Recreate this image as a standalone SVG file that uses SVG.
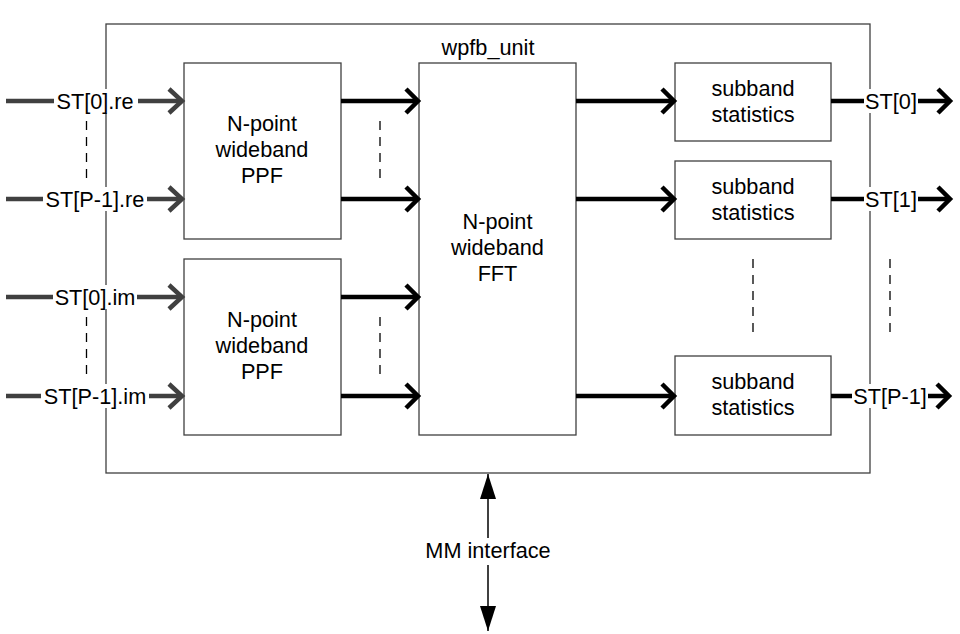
<svg xmlns="http://www.w3.org/2000/svg" width="960" height="634" viewBox="0 0 960 634">
<style>
text{font-family:"Liberation Sans",Arial,sans-serif;font-size:21.7px;fill:#000;text-anchor:middle}
.box{fill:#fff;stroke:#404040;stroke-width:1.3}
.gray{stroke:#404040;stroke-width:4.5;fill:none}
.blk{stroke:#000;stroke-width:4.5;fill:none}
.dash{stroke:#000;stroke-width:1.3;stroke-dasharray:9 7;fill:none}
.bg{fill:#fff}
</style>
<defs>
<marker id="chevG" markerUnits="userSpaceOnUse" viewBox="-16 -15 20 30" refX="0" refY="0" markerWidth="20" markerHeight="30" orient="auto" overflow="visible">
<path d="M-13,-12 L0,0 L-13,12" fill="none" stroke="#404040" stroke-width="4.5"/>
</marker>
<marker id="chevB" markerUnits="userSpaceOnUse" viewBox="-16 -15 20 30" refX="0" refY="0" markerWidth="20" markerHeight="30" orient="auto" overflow="visible">
<path d="M-12,-12 L0,0 L-12,12" fill="none" stroke="#000" stroke-width="4.5"/>
</marker>
<marker id="tri" markerUnits="userSpaceOnUse" viewBox="-25 -9 26 18" refX="0" refY="0" markerWidth="26" markerHeight="18" orient="auto-start-reverse" overflow="visible">
<path d="M-25,-8 L0,0 L-25,8 Z" fill="#000"/>
</marker>
</defs>

<g id="wpfb_unit">
<rect class="box" x="106" y="24" width="764" height="449"/>
<text x="488" y="55">wpfb_unit</text>
</g>

<g id="ppf1">
<rect class="box" x="184" y="63" width="157" height="176"/>
<text x="262" y="131">N-point</text>
<text x="262" y="157">wideband</text>
<text x="262" y="183">PPF</text>
</g>
<g id="ppf2">
<rect class="box" x="184" y="259" width="157" height="176"/>
<text x="262" y="327">N-point</text>
<text x="262" y="353">wideband</text>
<text x="262" y="379">PPF</text>
</g>
<g id="fft">
<rect class="box" x="419" y="63" width="157" height="372"/>
<text x="497.5" y="229">N-point</text>
<text x="497.5" y="255">wideband</text>
<text x="497.5" y="281">FFT</text>
</g>
<g id="stat0">
<rect class="box" x="675" y="63" width="156" height="78"/>
<text x="753" y="96">subband</text>
<text x="753" y="122">statistics</text>
</g>
<g id="stat1">
<rect class="box" x="675" y="161" width="156" height="78"/>
<text x="753" y="194">subband</text>
<text x="753" y="220">statistics</text>
</g>
<g id="statP">
<rect class="box" x="675" y="356" width="156" height="79"/>
<text x="753" y="389">subband</text>
<text x="753" y="415">statistics</text>
</g>

<g id="connectors">
<!-- inputs -->
<line class="gray" x1="6" y1="101" x2="182" y2="101" marker-end="url(#chevG)"/>
<line class="gray" x1="6" y1="199" x2="182" y2="199" marker-end="url(#chevG)"/>
<line class="gray" x1="6" y1="297" x2="182" y2="297" marker-end="url(#chevG)"/>
<line class="gray" x1="6" y1="396" x2="182" y2="396" marker-end="url(#chevG)"/>
<rect class="bg" x="54" y="89" width="84" height="24"/>
<text x="95" y="109">ST[0].re</text>
<rect class="bg" x="43" y="187" width="104" height="24"/>
<text x="95" y="207">ST[P-1].re</text>
<rect class="bg" x="53" y="285" width="84" height="24"/>
<text x="95" y="305">ST[0].im</text>
<rect class="bg" x="41" y="384" width="108" height="24"/>
<text x="95" y="404">ST[P-1].im</text>
<line class="dash" x1="86.5" y1="121" x2="86.5" y2="181"/>
<line class="dash" x1="86.5" y1="317" x2="86.5" y2="377"/>

<!-- PPF to FFT -->
<line class="blk" x1="341" y1="101" x2="418" y2="101" marker-end="url(#chevB)"/>
<line class="blk" x1="341" y1="199" x2="418" y2="199" marker-end="url(#chevB)"/>
<line class="blk" x1="341" y1="297" x2="418" y2="297" marker-end="url(#chevB)"/>
<line class="blk" x1="341" y1="396" x2="418" y2="396" marker-end="url(#chevB)"/>
<line class="dash" x1="380" y1="121" x2="380" y2="181"/>
<line class="dash" x1="380" y1="317" x2="380" y2="377"/>

<!-- FFT to stats -->
<line class="blk" x1="576" y1="101" x2="674" y2="101" marker-end="url(#chevB)"/>
<line class="blk" x1="576" y1="199" x2="674" y2="199" marker-end="url(#chevB)"/>
<line class="blk" x1="576" y1="396" x2="674" y2="396" marker-end="url(#chevB)"/>
<line class="dash" x1="753" y1="259" x2="753" y2="335"/>

<!-- outputs -->
<line class="blk" x1="831" y1="101" x2="950" y2="101" marker-end="url(#chevB)"/>
<line class="blk" x1="831" y1="199" x2="950" y2="199" marker-end="url(#chevB)"/>
<line class="blk" x1="831" y1="396" x2="949" y2="396" marker-end="url(#chevB)"/>
<rect class="bg" x="864" y="89" width="54" height="24"/>
<text x="891" y="109">ST[0]</text>
<rect class="bg" x="864" y="187" width="54" height="24"/>
<text x="891" y="207">ST[1]</text>
<rect class="bg" x="852" y="384" width="76" height="24"/>
<text x="890" y="404">ST[P-1]</text>
<line class="dash" x1="890" y1="259" x2="890" y2="335"/>

<!-- MM interface -->
<line x1="488" y1="474" x2="488" y2="631" stroke="#000" stroke-width="1.5" marker-start="url(#tri)" marker-end="url(#tri)"/>
<rect class="bg" x="420" y="538" width="136" height="27"/>
<text x="488" y="558">MM interface</text>
</g>
</svg>
